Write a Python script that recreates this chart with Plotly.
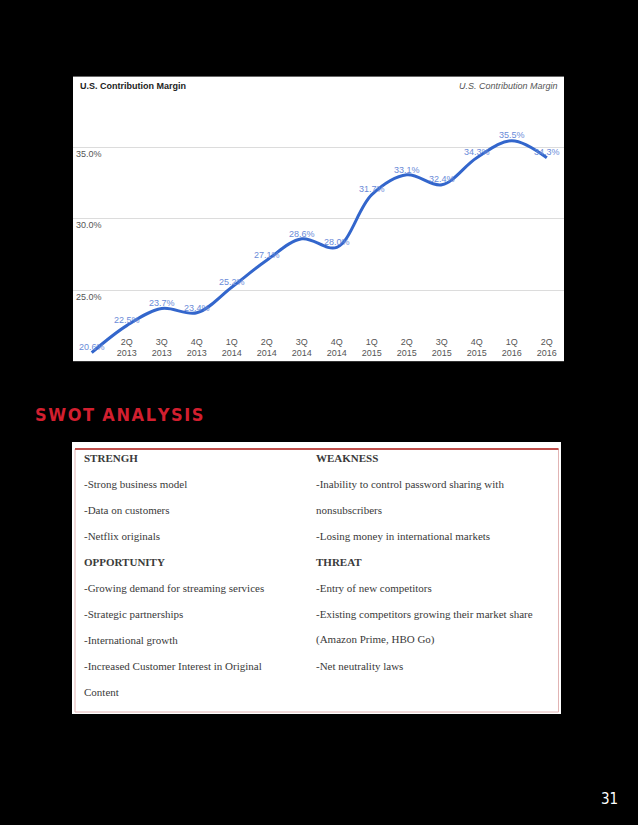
import plotly.graph_objects as go

# ---------------- data ----------------
quarters = ["1Q 2013", "2Q 2013", "3Q 2013", "4Q 2013",
            "1Q 2014", "2Q 2014", "3Q 2014", "4Q 2014",
            "1Q 2015", "2Q 2015", "3Q 2015", "4Q 2015",
            "1Q 2016", "2Q 2016"]
margin_pct = [20.6, 22.5, 23.7, 23.4, 25.2, 27.1, 28.6, 28.0,
              31.7, 33.1, 32.4, 34.3, 35.5, 34.3]
y_ticks = [25, 30, 35]
chart_title = "U.S. Contribution Margin"

swot_left = ["STRENGH", "-Strong business model", "-Data on customers",
             "-Netflix originals", "OPPORTUNITY",
             "-Growing demand for streaming services",
             "-Strategic partnerships", "-International growth",
             "-Increased Customer Interest in Original", "Content"]
swot_right = ["WEAKNESS", "-Inability to control password sharing with",
              "nonsubscribers", "-Losing money in international markets",
              "THREAT", "-Entry of new competitors",
              "-Existing competitors growing their market share",
              "(Amazon Prime, HBO Go)", "-Net neutrality laws"]
swot_headers = {"STRENGH", "WEAKNESS", "OPPORTUNITY", "THREAT"}
heading = "SWOT ANALYSIS"
page_number = "31"

# ---------------- page geometry ----------------
W, H = 638, 825


def px(x):
    return x / W


def py(y):
    return 1 - y / H


SANS = "Liberation Sans, Arial, sans-serif"
SERIF = "Liberation Serif, Times New Roman, serif"
NARROW = "DejaVu Sans Condensed, Liberation Sans Narrow, Arial Narrow, sans-serif"

fig = go.Figure()

idx = list(range(len(quarters)))
fig.add_trace(go.Scatter(
    x=idx, y=margin_pct,
    mode="lines+text",
    text=[f"{v:.1f}%" for v in margin_pct],
    textposition="top center",
    textfont=dict(size=9, color="#6a8bd8", family=SANS),
    line=dict(color="#3366cc", width=3, shape="spline", smoothing=1.0),
    cliponaxis=False,
    hoverinfo="skip",
    showlegend=False,
))

shapes = []
# SWOT table box
shapes.append(dict(type="rect", xref="paper", yref="paper",
                   x0=px(72), x1=px(561), y0=py(714), y1=py(442),
                   fillcolor="white", line=dict(width=0), layer="below"))
shapes.append(dict(type="rect", xref="paper", yref="paper",
                   x0=px(75), x1=px(558.5), y0=py(712), y1=py(449),
                   fillcolor="rgba(0,0,0,0)",
                   line=dict(color="#e2b4b4", width=1), layer="above"))
shapes.append(dict(type="line", xref="paper", yref="paper",
                   x0=px(75), x1=px(558.5), y0=py(449), y1=py(449),
                   line=dict(color="#c0504d", width=2), layer="above"))

annotations = []
# chart titles
annotations.append(dict(text="<b>" + chart_title + "</b>", xref="paper", yref="paper",
                        x=px(78), y=py(86), xanchor="left", yanchor="middle",
                        showarrow=False, font=dict(size=9, color="#222", family=SANS)))
annotations.append(dict(text="<i>" + chart_title + "</i>", xref="paper", yref="paper",
                        x=px(560), y=py(86), xanchor="right", yanchor="middle",
                        showarrow=False, font=dict(size=9, color="#555", family=SANS)))

# heading
spaced = "\u200a".join(list(heading)).replace("\u200a \u200a", "\u2002")
annotations.append(dict(text="<b>" + spaced + "</b>", xref="paper", yref="paper",
                        x=px(33), y=py(414), xanchor="left", yanchor="middle",
                        showarrow=False,
                        font=dict(size=18, color="#d21f2f", family=NARROW)))
# page number
annotations.append(dict(text=page_number, xref="paper", yref="paper",
                        x=px(609.5), y=py(798.5), xanchor="center", yanchor="middle",
                        showarrow=False, font=dict(size=15, color="white", family=NARROW)))

# SWOT texts
for col_x, items in ((82, swot_left), (313.5, swot_right)):
    for i, t in enumerate(items):
        label = f"<b>{t}</b>" if t in swot_headers else t
        annotations.append(dict(text=label, xref="paper", yref="paper",
                                x=px(col_x), y=py(457.5 + 26 * i),
                                xanchor="left", yanchor="middle", showarrow=False,
                                font=dict(size=11, color="#3a3a3a", family=SERIF)))

fig.update_layout(
    width=W, height=H,
    margin=dict(l=0, r=0, t=0, b=0),
    paper_bgcolor="black",
    plot_bgcolor="white",
    shapes=shapes,
    annotations=annotations,
    xaxis=dict(domain=[px(73), px(564)], range=[-0.534, 13.49],
               tickvals=idx[1:], ticktext=[q.replace(" ", "<br>") for q in quarters[1:]],
               ticklabelposition="inside", ticks="",
               showgrid=False, zeroline=False, showline=False,
               tickfont=dict(size=9, color="#555", family=SANS), fixedrange=True),
    yaxis=dict(domain=[py(361.2), py(76.6)], range=[20, 40],
               tickvals=y_ticks, ticktext=[f"{v:.1f}%" for v in y_ticks],
               ticklabelposition="inside bottom", ticks="",
               showgrid=True, gridcolor="#dcdcdc", gridwidth=1,
               zeroline=False, showline=False,
               tickfont=dict(size=9, color="#555", family=SANS), fixedrange=True),
)

fig.write_html("out.html",
               config={"displayModeBar": False, "staticPlot": True},
               post_script="document.body.style.margin='0';document.body.style.background='black';")
